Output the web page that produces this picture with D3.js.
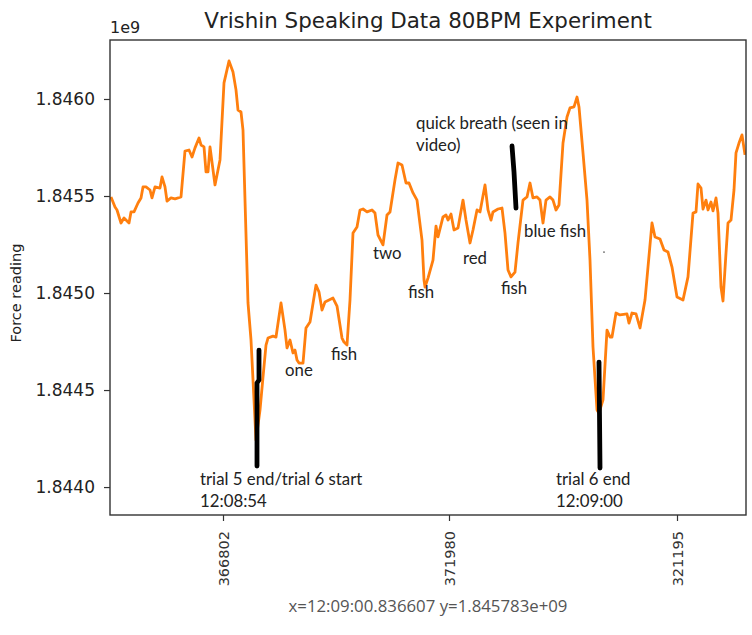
<!DOCTYPE html>
<html>
<head>
<meta charset="utf-8">
<script src="https://cdn.jsdelivr.net/npm/d3@7"></script>
<style>
  html, body { margin: 0; padding: 0; background: #fff; }
  svg { display: block; }
</style>
</head>
<body>
<svg id="chart" width="752" height="635"></svg>
<script>
// ---------------- data ----------------
const title = "Vrishin Speaking Data 80BPM Experiment";
const yLabel = "Force reading";
const statusText = "x=12:09:00.836607 y=1.845783e+09";

const samples = [
  1,5,7,11,14,19,21,24,28,31,33,36,40,42,45,50,52,55,57,61,65,71,75,79,82,85,89,91,94,96,98,100,
  105,110,114,119,123,126,128,131,133,135,138,141,144,146,150,153,156,158,163,166,171,175,177,180,
  183,185,187,189,193,196,200,206,209,212,215,223,227,232,234,237,240,243,247,250,253,257,262,265,
  268,273,277,280,285,288,292,296,299,303,307,312,314,315,318,323,326,328,333,336,338,341,344,348,
  353,356,360,363,367,370,375,378,381,383,388,392,395,398,401,405,408,413,417,420,423,427,430,433,
  436,440,443,446,449,453,457,460,464,467,469,473,477,480,483,487,489,493,497,500,502,506,510,517,
  519,522,526,530,535,542,545,550,554,558,562,567,573,578,583,586,588,591,593,596,598,601,603,606,
  608,611,613,616,618,621,624,626,629,632,635
];

const force = [
  1845495000,1845443000,1845428000,1845361000,1845387000,1845361000,1845418000,1845418000,
  1845464000,1845490000,1845547000,1845547000,1845531000,1845490000,1845547000,1845541000,
  1845598000,1845547000,1845474000,1845490000,1845485000,1845495000,1845732000,1845737000,
  1845701000,1845748000,1845799000,1845763000,1845753000,1845624000,1845624000,1845753000,
  1845557000,1845686000,1846083000,1846196000,1846139000,1846047000,1845943000,1845933000,
  1845840000,1845479000,1844949000,1844758000,1844449000,1844242000,1844397000,1844567000,
  1844732000,1844768000,1844778000,1844773000,1844949000,1844809000,1844717000,1844758000,
  1844691000,1844706000,1844655000,1844639000,1844639000,1844820000,1844851000,1845041000,
  1845005000,1844912000,1844954000,1844974000,1844933000,1844768000,1844747000,1844732000,
  1844964000,1845309000,1845340000,1845428000,1845433000,1845418000,1845428000,1845412000,
  1845299000,1845248000,1845402000,1845418000,1845583000,1845670000,1845660000,1845567000,
  1845567000,1845516000,1845479000,1845273000,1845067000,1845031000,1845077000,1845170000,
  1845345000,1845289000,1845392000,1845402000,1845376000,1845407000,1845325000,1845335000,
  1845479000,1845376000,1845258000,1845325000,1845428000,1845418000,1845557000,1845428000,
  1845376000,1845418000,1845433000,1845438000,1845309000,1845119000,1845083000,1845108000,
  1845258000,1845479000,1845495000,1845567000,1845490000,1845495000,1845479000,1845361000,
  1845479000,1845495000,1845479000,1845428000,1845454000,1845773000,1845907000,1845954000,
  1845959000,1846010000,1845959000,1845722000,1845479000,1845170000,1844722000,1844397000,
  1844381000,1844449000,1844809000,1844773000,1844773000,1844897000,1844887000,1844892000,
  1844845000,1844897000,1844892000,1844820000,1844964000,1845361000,1845289000,1845278000,
  1845222000,1845211000,1845134000,1844980000,1844964000,1845083000,1845412000,1845418000,
  1845562000,1845541000,1845433000,1845479000,1845428000,1845469000,1845423000,1845490000,
  1845412000,1845031000,1844959000,1845206000,1845361000,1845376000,1845531000,1845722000,
  1845773000,1845815000,1845712000
];

const xTickSamples = [113, 339, 567];
const xTickLabels = ["366802", "371980", "321195"];
const yTicks = [1844000000, 1844500000, 1845000000, 1845500000, 1846000000];

// hand-drawn marker strokes (sample, force)
const markerStrokes = [
  [[149, 1844706000], [149, 1844552000], [147, 1844536000], [147, 1844108000]],
  [[402, 1845758000], [404, 1845624000], [405, 1845531000], [406, 1845438000]],
  [[489, 1844644000], [490, 1844098000]]
];

// annotation labels anchored at (sample, force) of first baseline
const noteText = [
  ["trial 5 end/trial 6 start", "12:08:54"],
  ["trial 6 end", "12:09:00"],
  ["one"], ["fish"], ["two"], ["fish"], ["red"], ["fish"], ["blue fish"],
  ["quick breath (seen in", "video)"]
];
const noteSample = [90, 446, 175, 221, 263, 298, 353, 391, 414, 306];
const noteForce = [1844010000, 1844010000, 1844572000, 1844655000, 1845175000,
                   1844974000, 1845150000, 1844995000, 1845289000, 1845845000];
const strayDot = [494, 1845211000];

// ---------------- layout ----------------
const W = 752, H = 635;
const m = { left: 110, top: 40, right: 6, bottom: 120 };
const pw = W - m.left - m.right, ph = H - m.top - m.bottom;

const svg = d3.select("#chart");
svg.append("rect").attr("width", W).attr("height", H).attr("fill", "#fff");

const x = d3.scaleLinear().domain([0, 636]).range([0, pw]);
const y = d3.scaleLinear().domain([1843856000, 1846304000]).range([ph, 0]);

const g = svg.append("g").attr("transform", `translate(${m.left},${m.top})`);

svg.append("defs").append("clipPath").attr("id", "clip")
  .append("rect").attr("width", pw).attr("height", ph);

const data = samples.map((s, i) => ({ s, v: force[i] }));

const line = d3.line().x(d => x(d.s)).y(d => y(d.v));

g.append("path")
  .datum(data)
  .attr("clip-path", "url(#clip)")
  .attr("fill", "none")
  .attr("stroke", "#ff7f0e")
  .attr("stroke-width", 2.8)
  .attr("stroke-linejoin", "round")
  .attr("d", line);

// marker strokes
const mline = d3.line().x(d => x(d[0])).y(d => y(d[1]));
g.selectAll(".marker").data(markerStrokes).join("path")
  .attr("class", "marker")
  .attr("fill", "none")
  .attr("stroke", "#000")
  .attr("stroke-width", 4.8)
  .attr("stroke-linecap", "round")
  .attr("stroke-linejoin", "round")
  .attr("d", mline);

g.append("circle").attr("cx", x(strayDot[0])).attr("cy", y(strayDot[1]))
  .attr("r", 0.9).attr("fill", "#666");

// annotations
const notes = g.selectAll(".note").data(noteText).join("text")
  .attr("class", "note")
  .attr("x", (d, i) => x(noteSample[i]))
  .attr("y", (d, i) => y(noteForce[i]))
  .attr("font-family", "Lato, 'Open Sans', sans-serif")
  .attr("font-size", 16.8)
  .attr("fill", "#222");
notes.each(function(d, i) {
  const t = d3.select(this);
  d.forEach((str, k) => {
    t.append("tspan")
      .attr("x", x(noteSample[i]))
      .attr("dy", k === 0 ? 0 : 22)
      .text(str);
  });
});

// axes
const yAxis = d3.axisLeft(y).tickValues(yTicks)
  .tickFormat(v => (v / 1e9).toFixed(4)).tickSize(6).tickPadding(9);
const yg = g.append("g").call(yAxis);
yg.select(".domain").remove();
yg.selectAll("line").attr("stroke", "#333").attr("stroke-width", 1.2);
yg.selectAll("text").attr("font-family", "DejaVu Sans").attr("font-size", 17).attr("fill", "#222");

const xAxis = d3.axisBottom(x).tickValues(xTickSamples)
  .tickFormat((d, i) => xTickLabels[i]).tickSize(6);
const xg = g.append("g").attr("transform", `translate(0,${ph})`).call(xAxis);
xg.select(".domain").remove();
xg.selectAll("line").attr("stroke", "#333").attr("stroke-width", 1.2);
xg.selectAll("text")
  .attr("font-family", "DejaVu Sans").attr("font-size", 14.5).attr("fill", "#333")
  .attr("transform", "rotate(-90)")
  .attr("text-anchor", "end")
  .attr("x", -16).attr("y", 0).attr("dy", "0.36em");

// frame
g.append("rect").attr("width", pw).attr("height", ph)
  .attr("fill", "none").attr("stroke", "#333").attr("stroke-width", 1.4);

// offset label
svg.append("text").attr("x", m.left).attr("y", 33)
  .attr("font-family", "DejaVu Sans").attr("font-size", 16).attr("fill", "#222")
  .text("1e9");

// title
svg.append("text").attr("x", m.left + pw / 2).attr("y", 28)
  .attr("text-anchor", "middle")
  .attr("font-family", "DejaVu Sans").attr("font-size", 21.4).attr("fill", "#222")
  .text(title);

// y label
svg.append("text")
  .attr("transform", `translate(21,${m.top + y(1845000000)}) rotate(-90)`)
  .attr("text-anchor", "middle")
  .attr("font-family", "DejaVu Sans").attr("font-size", 14.5).attr("fill", "#222")
  .text(yLabel);

// status bar text
svg.append("text").attr("x", 428).attr("y", 612)
  .attr("text-anchor", "middle")
  .attr("font-family", "'Open Sans', sans-serif").attr("font-size", 16.8).attr("fill", "#555")
  .text(statusText);
</script>
</body>
</html>
